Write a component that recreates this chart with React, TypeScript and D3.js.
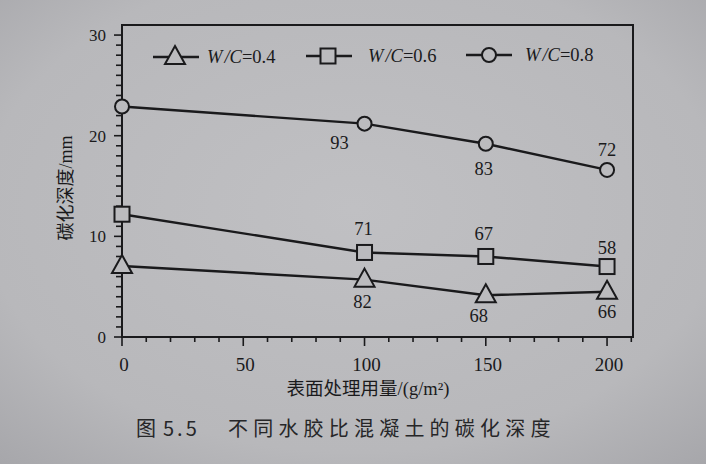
import React from 'react';
import * as d3 from 'd3';

// ---- data ----
const doses = [0, 100, 150, 200];
const seriesNames = ['0.4', '0.6', '0.8'];
const wc04 = [7.05, 5.7, 4.15, 4.5];
const wc06 = [12.2, 8.4, 8.0, 7.0];
const wc08 = [22.9, 21.2, 19.2, 16.6];
const labels04 = ['', '82', '68', '66'];
const labels06 = ['', '71', '67', '58'];
const labels08 = ['', '93', '83', '72'];
const xTickLabels = [0, 50, 100, 150, 200];
const yTickLabels = [0, 10, 20, 30];
const xTitle = '表面处理用量/(g/m²)';
const yTitle = '碳化深度/mm';
const captionNo = '图';
const captionNum = '5.5';
const captionText = '不同水胶比混凝土的碳化深度';

const W = 706;
const H = 464;
const L = 122, R = 633, T = 25, B = 337;
const ink = '#1a1a1c';
const bg = '#bbbbbe';
const serif = '"Liberation Serif", "Times New Roman", "Noto Sans CJK SC", serif';
const cjk = '"Noto Sans CJK SC", sans-serif';

type Marker = 'tri' | 'sq' | 'circ';

function MarkerShape({ kind, x, y }: { kind: Marker; x: number; y: number }) {
  const common = { fill: bg, stroke: ink, strokeWidth: 2 };
  if (kind === 'tri') return <path d={`M${x},${y - 11} L${x + 10},${y + 7} L${x - 10},${y + 7} Z`} {...common} />;
  if (kind === 'sq') return <rect x={x - 7.5} y={y - 7.5} width={15} height={15} {...common} />;
  return <circle cx={x} cy={y} r={7} {...common} />;
}

export default function App() {
  const x = d3.scaleLinear().domain([0, 210.7]).range([L, R]);
  const y = d3.scaleLinear().domain([0, 31]).range([B, T]);
  const line = d3.line<number>().x((_, i) => x(doses[i])).y((d) => y(d));

  const series: { vals: number[]; labs: string[]; kind: Marker; off: [number, number][] }[] = [
    { vals: wc04, labs: labels04, kind: 'tri', off: [[0, 0], [-2, 22], [-7, 21], [0, 20]] },
    { vals: wc06, labs: labels06, kind: 'sq', off: [[0, 0], [-1, -23], [-2, -22], [0, -19]] },
    { vals: wc08, labs: labels08, kind: 'circ', off: [[0, 0], [-25, 19], [-2, 25], [0, -20]] },
  ];

  const yMinor = d3.range(0, 31, 1);
  const xMinor = d3.range(0, 211, 10);

  const legend = [
    { kind: 'tri' as Marker, lx: 153, mx: 175, tx: 207, ty: 57 },
    { kind: 'sq' as Marker, lx: 306, mx: 328, tx: 368, ty: 56 },
    { kind: 'circ' as Marker, lx: 466, mx: 489, tx: 525, ty: 55 },
  ];

  return (
    <svg width={W} height={H} style={{ position: 'absolute', left: 0, top: 0 }}>
      <defs>
        <radialGradient id="paper" cx="50%" cy="45%" r="75%">
          <stop offset="0%" stopColor="#c0c0c3" />
          <stop offset="70%" stopColor="#b8b8bb" />
          <stop offset="100%" stopColor="#a6a6aa" />
        </radialGradient>
      </defs>
      <rect x={0} y={0} width={W} height={H} fill="url(#paper)" />

      {/* frame */}
      <rect x={L} y={T} width={R - L} height={B - T} fill="none" stroke={ink} strokeWidth={2} />

      {/* y ticks */}
      {yMinor.map((v) => (
        <line key={'ym' + v} x1={L} x2={L - (v % 10 === 0 ? 8 : 6)} y1={y(v)} y2={y(v)} stroke={ink} strokeWidth={1.6} />
      ))}
      {yTickLabels.map((v) => (
        <text key={'yl' + v} x={106} y={y(v) + 6} textAnchor="end" fontFamily={serif} fontSize={17} fill={ink}>
          {v}
        </text>
      ))}

      {/* x ticks */}
      {xMinor.map((v) => (
        <line key={'xm' + v} x1={x(v)} x2={x(v)} y1={B} y2={B + (v % 50 === 0 ? 9 : 5)} stroke={ink} strokeWidth={1.6} />
      ))}
      {xTickLabels.map((v) => (
        <text key={'xl' + v} x={x(v) + 2} y={371} textAnchor="middle" fontFamily={serif} fontSize={19} fill={ink}>
          {v}
        </text>
      ))}

      {/* series */}
      {series.map((s, si) => (
        <g key={'s' + si}>
          <path d={line(s.vals) || ''} fill="none" stroke={ink} strokeWidth={2.4} />
          {s.vals.map((v, i) => (
            <MarkerShape key={i} kind={s.kind} x={x(doses[i])} y={y(v)} />
          ))}
          {s.labs.map((t, i) =>
            t ? (
              <text
                key={'t' + i}
                x={x(doses[i]) + s.off[i][0]}
                y={y(s.vals[i]) + s.off[i][1] + 6}
                textAnchor="middle"
                fontFamily={serif}
                fontSize={18.5}
                fill={ink}
              >
                {t}
              </text>
            ) : null
          )}
        </g>
      ))}

      {/* legend */}
      {legend.map((g, i) => (
        <g key={'lg' + i}>
          <line x1={g.lx} x2={g.lx + 46} y1={g.ty} y2={g.ty} stroke={ink} strokeWidth={2.4} />
          <MarkerShape kind={g.kind} x={g.mx} y={g.ty} />
          <text x={g.tx} y={g.ty + 6} fontFamily={serif} fontSize={18.5} fill={ink}>
            <tspan fontStyle="italic">W</tspan>
            <tspan fontStyle="italic" dx={2}>/</tspan>
            <tspan fontStyle="italic">C</tspan>
            <tspan>={seriesNames[i]}</tspan>
          </text>
        </g>
      ))}

      {/* axis titles */}
      <text
        transform={`translate(72,188) rotate(-90)`}
        textAnchor="middle"
        fontFamily={serif}
        fontSize={18}
        fill={ink}
      >
        {yTitle}
      </text>
      <text x={368} y={395} textAnchor="middle" fontFamily={serif} fontSize={18.5} fill={ink}>
        {xTitle}
      </text>

      {/* caption */}
      <text x={136} y={436} fontFamily={cjk} fontSize={20} fill="#262628">
        {captionNo}
      </text>
      <text x={163} y={436} fontFamily={cjk} fontSize={20} letterSpacing={3} fill="#262628">
        {captionNum}
      </text>
      <text x={228} y={436} fontFamily={cjk} fontSize={20} letterSpacing={5.2} fill="#262628">
        {captionText}
      </text>
    </svg>
  );
}
